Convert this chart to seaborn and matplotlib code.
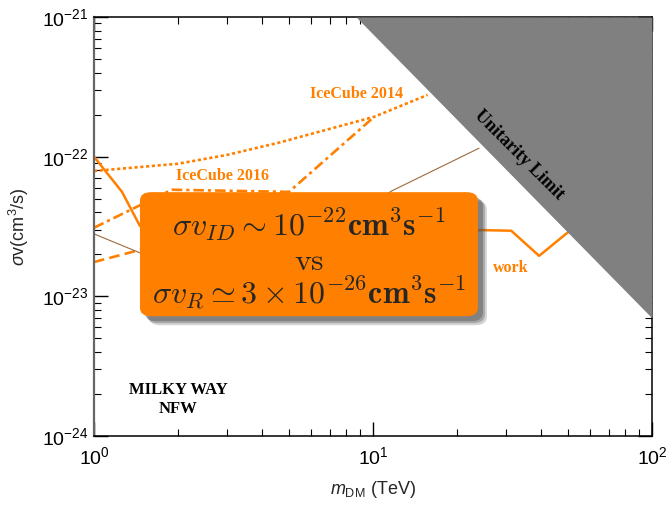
import matplotlib

matplotlib.use("Agg")

import matplotlib.pyplot as plt
import numpy as np
import pandas as pd
import seaborn as sns
from matplotlib.patches import FancyBboxPatch
from matplotlib.ticker import FixedLocator, LogLocator, NullFormatter

# IceCube 2014 (dotted)
ic14_mass = [1.0, 2.0, 3.0, 4.6, 10.1, 15.7]
ic14_sv = [7.9e-23, 8.9e-23, 1.03e-22, 1.26e-22, 1.93e-22, 2.77e-22]

# IceCube 2016 (dash-dot)
ic16_mass = [1.0, 1.9, 5.0, 10.1]
ic16_sv = [3.1e-23, 5.8e-23, 5.6e-23, 1.93e-22]

# lower dashed curve
low_mass = [1.0, 1.46, 2.2]
low_sv = [1.76e-23, 2.15e-23, 2.6e-23]

# this work (solid)
work_mass = [1.0, 1.26, 1.46, 2.0, 5.0, 12.0, 24.6, 31.3, 39.4, 49.6, 56.0]
work_sv = [1.0e-22, 5.6e-23, 3.2e-23, 2.4e-23, 2.6e-23, 2.8e-23, 2.98e-23,
           2.95e-23, 1.95e-23, 2.84e-23, 3.4e-23]

# thin brown curve
brown_mass = [1.0, 1.46, 3.0, 6.0, 11.7, 24.0]
brown_sv = [2.8e-23, 2.05e-23, 1.5e-23, 2.5e-23, 5.7e-23, 1.15e-22]

# unitarity limit edge
unit_mass = [8.7, 100.0]
unit_sv = [1e-21, 7.0e-24]

ORANGE = "#FF8000"
BROWN = "#9C6B3F"

sns.set_theme(style="ticks")
plt.rcParams["font.family"] = ["Liberation Sans", "DejaVu Sans"]
plt.rcParams["mathtext.fontset"] = "custom"
plt.rcParams["mathtext.rm"] = "Liberation Sans"
plt.rcParams["mathtext.it"] = "Liberation Sans:italic"
plt.rcParams["mathtext.bf"] = "Liberation Sans:bold"

fig = plt.figure(figsize=(6.68, 5.05), dpi=100)
ax = fig.add_axes([0.1407, 0.1366, 0.8353, 0.8297])


def draw(mass, sv, color, lw, dashes=None):
    frame = pd.DataFrame({"m": mass, "sv": sv})
    sns.lineplot(data=frame, x="m", y="sv", sort=False, estimator=None,
                 color=color, linewidth=lw, ax=ax, zorder=2)
    line = ax.lines[-1]
    if dashes is not None:
        line.set_dashes(dashes)
    return line


draw(ic14_mass, ic14_sv, ORANGE, 1.9, (1.2, 1.0))
draw(ic16_mass, ic16_sv, ORANGE, 1.9, (4, 1.5, 1.2, 1.5))
draw(low_mass, low_sv, ORANGE, 1.9, (4, 2))
draw(work_mass, work_sv, ORANGE, 1.8)
draw(brown_mass, brown_sv, BROWN, 0.8)

ax.set_xscale("log")
ax.set_yscale("log")
ax.set_xlim(1, 100)
ax.set_ylim(1e-24, 1e-21)

ax.fill_between(unit_mass, unit_sv, [1e-21, 1e-21], color="#808080",
                linewidth=0, zorder=3)

# orange summary box with shadow
for off, alpha in [(9, 0.25), (7, 0.35), (5, 0.45)]:
    dx = off / (fig.dpi * 6.68 * 0.8353)
    dy = off / (fig.dpi * 5.05 * 0.8297)
    shadow = FancyBboxPatch((0.0824 + dx, 0.286 - dy), 0.6056, 0.296,
                            boxstyle="round,pad=0,rounding_size=0.02",
                            transform=ax.transAxes, facecolor="#555555",
                            edgecolor="none", alpha=alpha, zorder=4)
    ax.add_patch(shadow)
box = FancyBboxPatch((0.0824, 0.286), 0.6056, 0.296,
                     boxstyle="round,pad=0,rounding_size=0.02",
                     transform=ax.transAxes, facecolor=ORANGE,
                     edgecolor="none", zorder=5)
ax.add_patch(box)

box_lines = [
    r"$\sigma v_{ID} \sim 10^{-22}\mathbf{cm}^3\mathbf{s}^{-1}$",
    r"$\mathrm{vs}$",
    r"$\sigma v_R \simeq 3 \times 10^{-26}\mathbf{cm}^3\mathbf{s}^{-1}$",
]
for text, ypos in zip(box_lines, [0.5036, 0.4153, 0.3413]):
    ax.text(0.3853, ypos, text, transform=ax.transAxes, ha="center",
            va="center", fontsize=23, math_fontfamily="cm", zorder=6)

serif_bold = dict(family="Liberation Serif", fontweight="bold",
                  transform=ax.transAxes, zorder=6)
ax.text(0.471, 0.816, "IceCube 2014", color=ORANGE, fontsize=11.5,
        ha="center", va="center", **serif_bold)
ax.text(0.231, 0.621, "IceCube 2016", color=ORANGE, fontsize=11.5,
        ha="center", va="center", **serif_bold)
ax.text(0.747, 0.400, "work", color=ORANGE, fontsize=11.5,
        ha="center", va="center", **serif_bold)
ax.text(0.762, 0.670, "Unitarity Limit", color="black", fontsize=13,
        rotation=-45, ha="center", va="center", **serif_bold)
ax.text(0.151, 0.087, "MILKY WAY\nNFW", color="black", fontsize=12,
        ha="center", va="center", linespacing=1.2, **serif_bold)

ax.xaxis.set_major_locator(FixedLocator([1, 10, 100]))
ax.yaxis.set_major_locator(FixedLocator([1e-24, 1e-23, 1e-22, 1e-21]))
ax.xaxis.set_minor_locator(LogLocator(base=10, subs=np.arange(2, 10)))
ax.yaxis.set_minor_locator(LogLocator(base=10, subs=np.arange(2, 10)))
ax.xaxis.set_minor_formatter(NullFormatter())
ax.yaxis.set_minor_formatter(NullFormatter())
ax.set_xticklabels([r"$10^{0}$", r"$10^{1}$", r"$10^{2}$"])
ax.set_yticklabels([r"$10^{-24}$", r"$10^{-23}$", r"$10^{-22}$", r"$10^{-21}$"])
ax.tick_params(which="both", direction="in", top=True, right=True,
               labelsize=14, colors="black")
ax.tick_params(which="major", length=10, width=1.0)
ax.tick_params(which="minor", length=5, width=0.8)
ax.tick_params(axis="x", which="major", pad=7)
ax.tick_params(axis="y", which="major", pad=4)

for side in ["top", "right", "bottom"]:
    ax.spines[side].set_color("black")
    ax.spines[side].set_linewidth(1.1)
ax.spines["left"].set_color("#666666")
ax.spines["left"].set_linewidth(1.6)

ax.set_xlabel(r"$m_{\rm DM}$ (TeV)", fontsize=13, labelpad=8)
ax.set_ylabel(r"$\sigma$v(cm$^3$/s)", fontsize=13, labelpad=8)

fig.savefig("out.png", dpi=100)
